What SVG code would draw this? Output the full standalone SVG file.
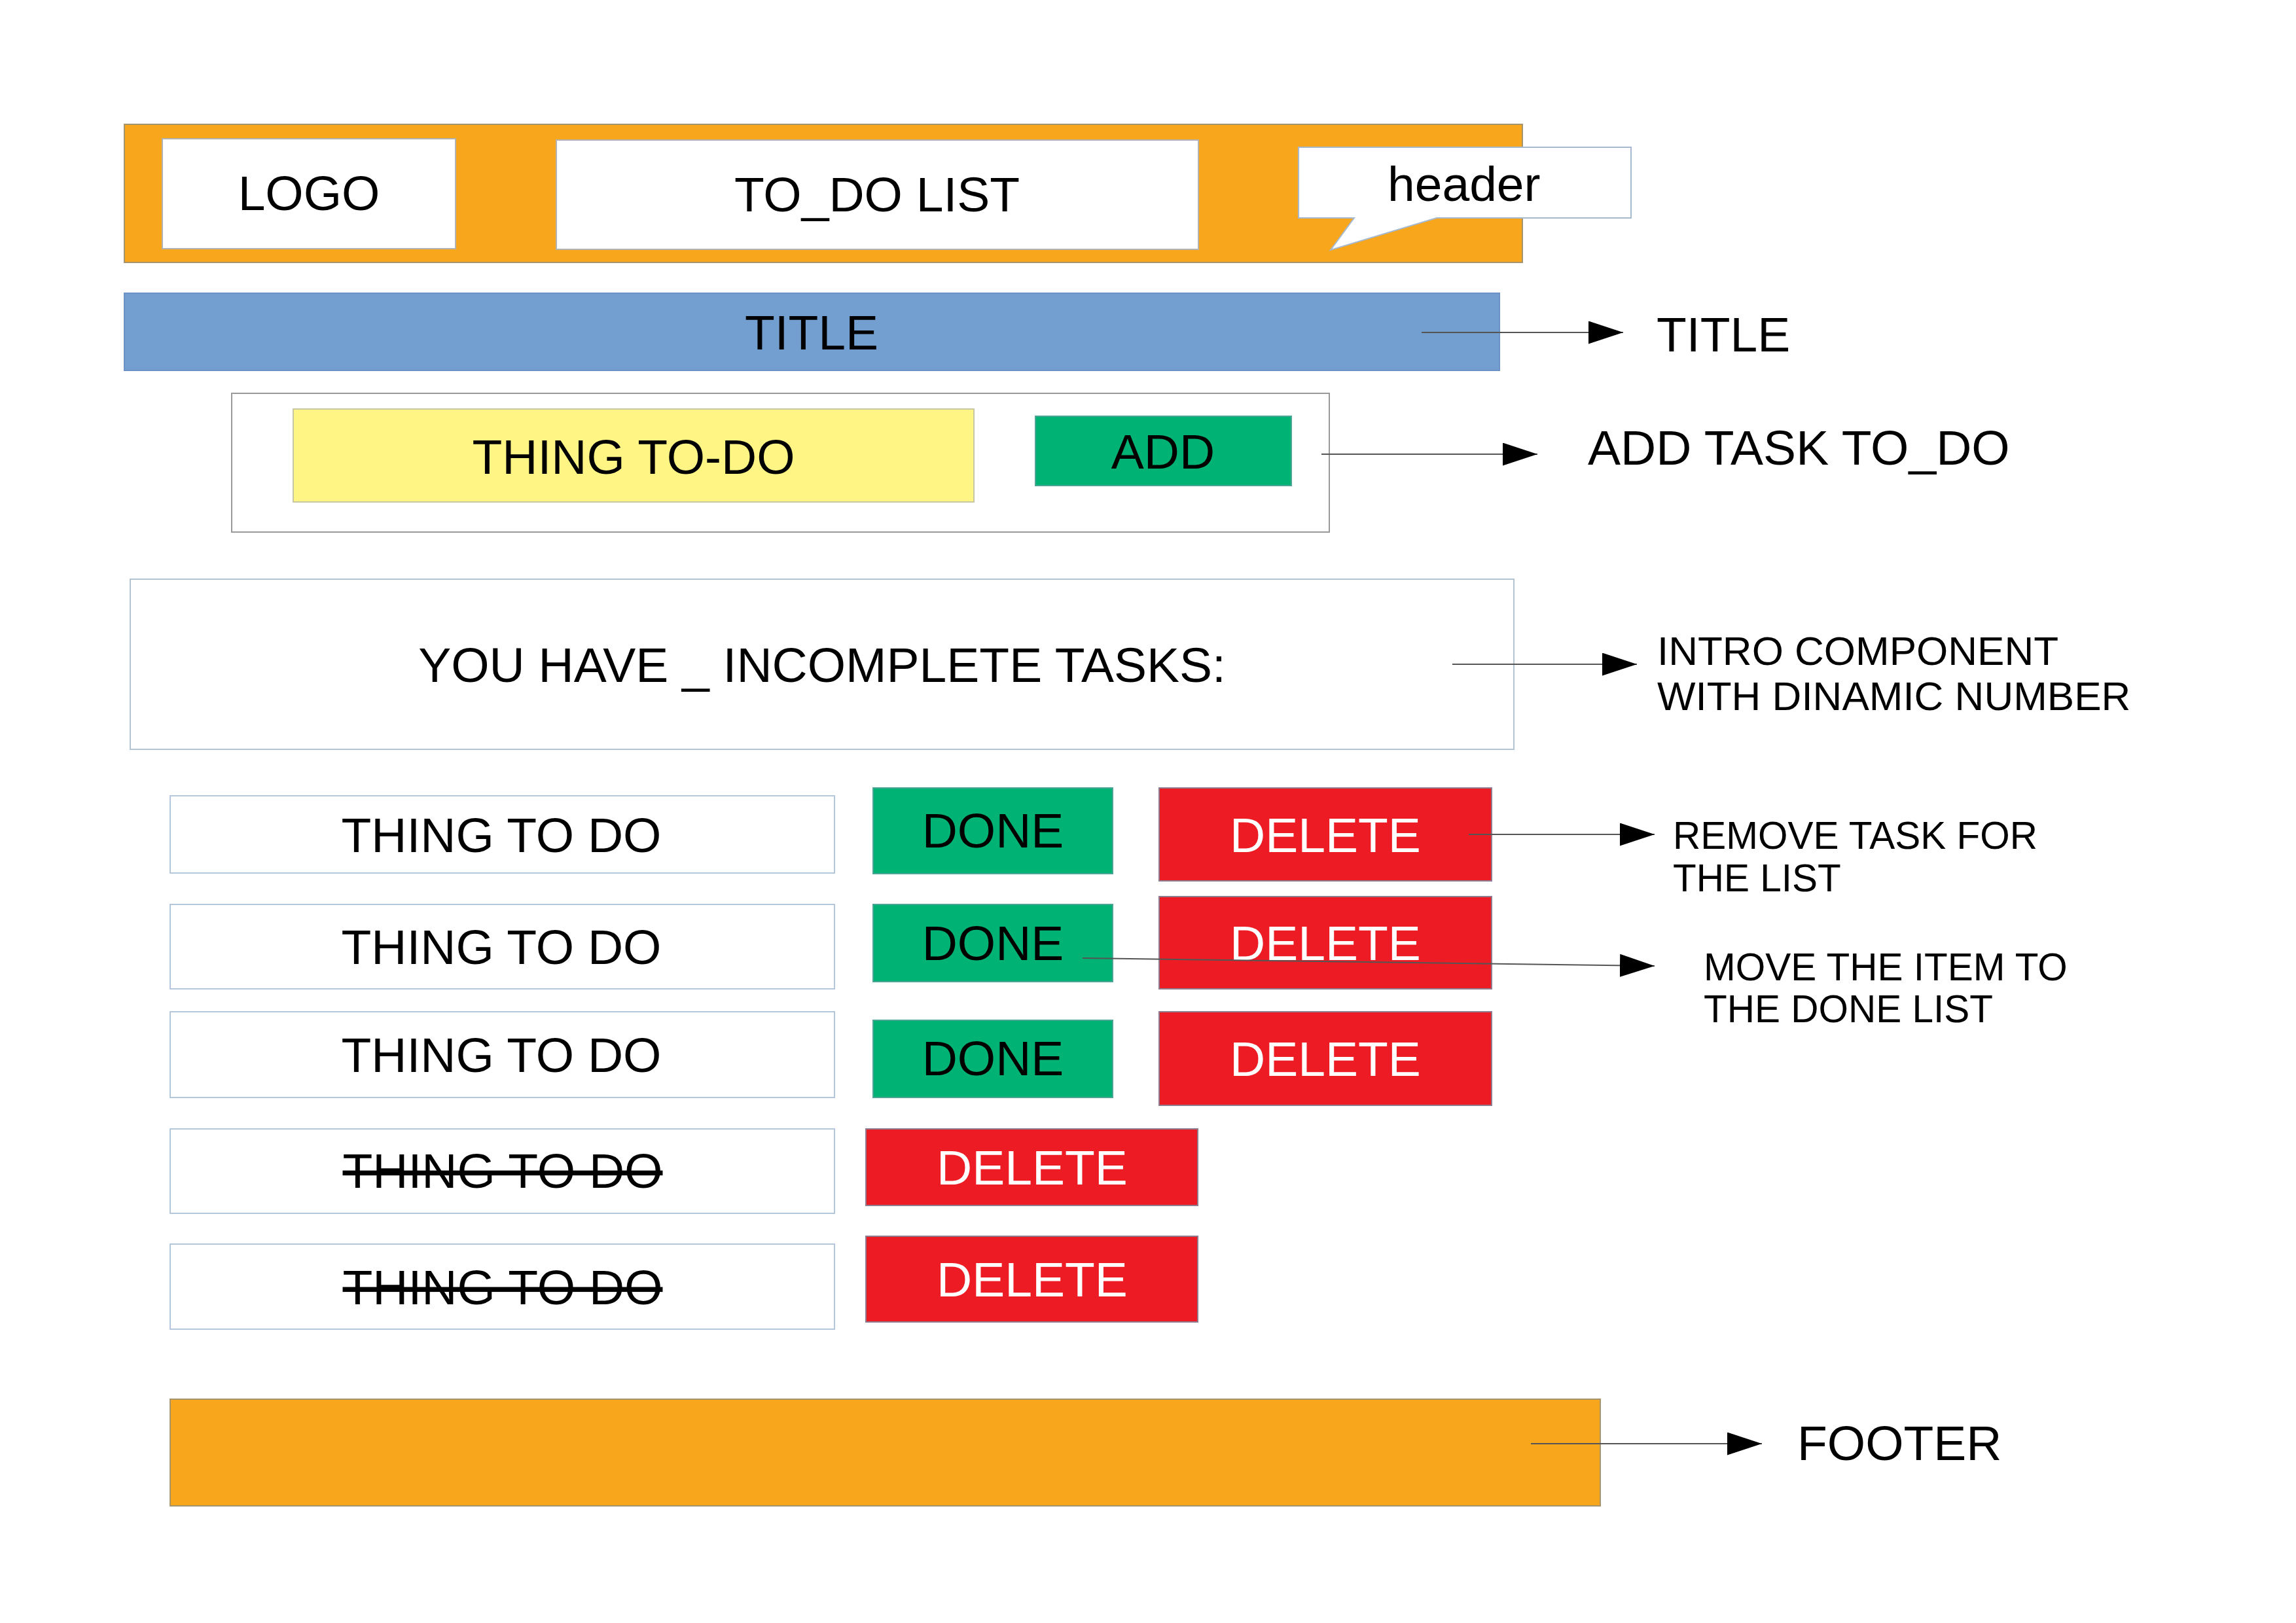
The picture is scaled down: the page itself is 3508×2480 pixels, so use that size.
<svg xmlns="http://www.w3.org/2000/svg" width="3508" height="2480" viewBox="0 0 3508 2480">
<style>
text{font-family:"Liberation Sans",Arial,sans-serif;font-size:75px;fill:#000}
.c{text-anchor:middle}
.w{fill:#fff}
.note{font-size:58.5px}
.note2{font-size:62px}
.strike{text-decoration:line-through}
.orange{fill:#f8a61c;stroke:#a8946c;stroke-width:2}
.white{fill:#fff;stroke:#b3b3b3;stroke-width:2}
.item{fill:#fff;stroke:#b4c7dc;stroke-width:2}
.green{fill:#00b274;stroke:#4aa594;stroke-width:2}
.red{fill:#ed1c24;stroke:#8f7c8e;stroke-width:2}
.conn{stroke:#555;stroke-width:2;fill:none;marker-end:url(#arr)}
</style>
<defs>
<marker id="arr" markerUnits="userSpaceOnUse" markerWidth="54" markerHeight="36" refX="53" refY="17.5" orient="auto">
<path d="M0,0 L53,17.5 L0,35 Z" fill="#000"/>
</marker>
</defs>
<rect width="3508" height="2480" fill="#fff"/>
<g id="header">
<rect class="orange" x="190" y="190" width="2136" height="211"/>
</g>
<g id="logo">
<rect class="white" x="248" y="212" width="448" height="168"/>
<text class="c" x="472" y="321">LOGO</text>
</g>
<g id="todo-list">
<rect class="white" x="850" y="214" width="981" height="167"/>
<text class="c" x="1340" y="323">TO_DO LIST</text>
</g>
<g id="header-callout">
<path d="M1984,225 L2492,225 L2492,333 L2195,333 L2033,382 L2069,333 L1984,333 Z" fill="#fff" stroke="#a6b9cf" stroke-width="2"/>
<text x="2120" y="307">header</text>
</g>
<g id="title-bar">
<rect x="190" y="448" width="2101" height="118" fill="#729fcf" stroke="#6a92c4" stroke-width="2"/>
<text class="c" x="1240" y="534">TITLE</text>
</g>
<g id="add-form">
<rect x="354" y="601" width="1677" height="212" fill="#fff" stroke="#999" stroke-width="2"/>
</g>
<g id="thing-input">
<rect x="448" y="625" width="1040" height="142" fill="#fff585" stroke="#c8c8a0" stroke-width="2"/>
<text class="c" x="968" y="724">THING TO-DO</text>
</g>
<g id="add-button">
<rect class="green" x="1582" y="636" width="391" height="106"/>
<text class="c" x="1777" y="716">ADD</text>
</g>
<g id="intro">
<rect x="199" y="885" width="2114" height="260" fill="#fff" stroke="#b4c3d0" stroke-width="2"/>
<text class="c" x="1256" y="1042">YOU HAVE _ INCOMPLETE TASKS:</text>
</g>
<g id="item1">
<rect class="item" x="260" y="1216" width="1015" height="118"/>
<text class="c" x="766" y="1302">THING TO DO</text>
</g>
<g id="done1">
<rect class="green" x="1334" y="1204" width="366" height="131"/>
<text class="c" x="1517" y="1295">DONE</text>
</g>
<g id="delete1">
<rect class="red" x="1771" y="1204" width="508" height="142"/>
<text class="c w" x="2025" y="1302">DELETE</text>
</g>
<g id="item2">
<rect class="item" x="260" y="1382" width="1015" height="129"/>
<text class="c" x="766" y="1473">THING TO DO</text>
</g>
<g id="done2">
<rect class="green" x="1334" y="1382" width="366" height="118"/>
<text class="c" x="1517" y="1467">DONE</text>
</g>
<g id="delete2">
<rect class="red" x="1771" y="1370" width="508" height="141"/>
<text class="c w" x="2025" y="1467">DELETE</text>
</g>
<g id="item3">
<rect class="item" x="260" y="1546" width="1015" height="131"/>
<text class="c" x="766" y="1638">THING TO DO</text>
</g>
<g id="done3">
<rect class="green" x="1334" y="1559" width="366" height="118"/>
<text class="c" x="1517" y="1643">DONE</text>
</g>
<g id="delete3">
<rect class="red" x="1771" y="1546" width="508" height="143"/>
<text class="c w" x="2025" y="1644">DELETE</text>
</g>
<g id="item4">
<rect class="item" x="260" y="1725" width="1015" height="129"/>
<text class="c strike" x="768" y="1815">THING TO DO</text>
</g>
<g id="delete4">
<rect class="red" x="1323" y="1725" width="507" height="117"/>
<text class="c w" x="1577" y="1810">DELETE</text>
</g>
<g id="item5">
<rect class="item" x="260" y="1901" width="1015" height="130"/>
<text class="c strike" x="768" y="1993">THING TO DO</text>
</g>
<g id="delete5">
<rect class="red" x="1323" y="1889" width="507" height="131"/>
<text class="c w" x="1577" y="1981">DELETE</text>
</g>
<g id="footer">
<rect class="orange" x="260" y="2138" width="2185" height="163"/>
</g>
<g id="label-title"><text x="2531" y="537">TITLE</text></g>
<g id="label-add"><text x="2426" y="710">ADD TASK TO_DO</text></g>
<g id="label-intro"><text class="note2" x="2532" y="1016">INTRO COMPONENT<tspan x="2532" y="1085">WITH DINAMIC NUMBER</tspan></text></g>
<g id="label-remove"><text class="note" x="2556" y="1297">REMOVE TASK FOR<tspan x="2556" y="1362">THE LIST</tspan></text></g>
<g id="label-move"><text class="note" x="2603" y="1498">MOVE THE ITEM TO<tspan x="2603" y="1562">THE DONE LIST</tspan></text></g>
<g id="label-footer"><text x="2746" y="2231">FOOTER</text></g>
<g id="connectors">
<line class="conn" x1="2172" y1="508" x2="2480" y2="508"/>
<line class="conn" x1="2019" y1="694" x2="2349" y2="694"/>
<line class="conn" x1="2219" y1="1015" x2="2501" y2="1015"/>
<line class="conn" x1="2244" y1="1275" x2="2528" y2="1275"/>
<line class="conn" x1="1654" y1="1464" x2="2528" y2="1476"/>
<line class="conn" x1="2339" y1="2206" x2="2692" y2="2206"/>
</g>
</svg>
